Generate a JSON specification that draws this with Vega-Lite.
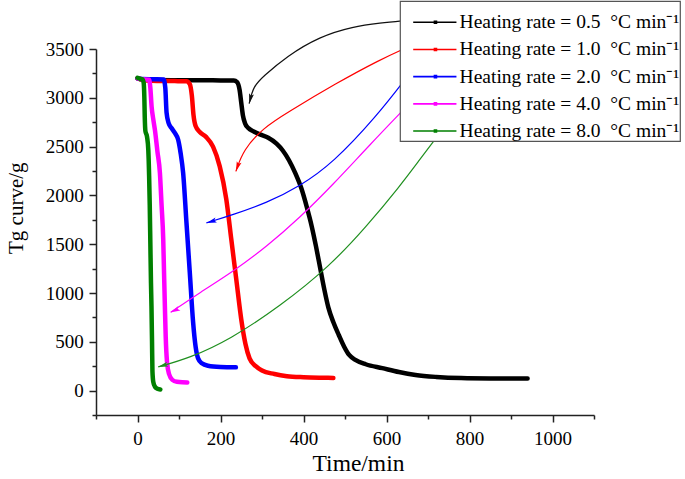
{
  "$schema": "https://vega.github.io/schema/vega-lite/v6.json",
  "width": 498,
  "height": 366,
  "autosize": "none",
  "padding": {"left": 96, "top": 49, "right": 91, "bottom": 64},
  "background": "white",
  "config": {
    "font": "Liberation Serif",
    "view": {"stroke": null},
    "legend": {
      "labelFont": "Liberation Serif",
      "labelFontSize": 19.5,
      "labelColor": "black",
      "labelLimit": 500,
      "symbolSize": 100,
      "symbolStrokeWidth": 1.6,
      "symbolType": "M-4.45,0H4.2M-0.2,-0.2H0.2V0.2H-0.2Z",
      "padding": 0,
      "rowPadding": 6.2,
      "labelOffset": 14.4,
      "symbolOffset": 25.7,
      "strokeColor": "#555555",
      "strokeWidth": 1.2,
      "fillColor": "white",
      "titleFontSize": 11.5,
      "titlePadding": 0
    }
  },
  "datasets": {
    "tg": [
      {"rate": "0.5", "t": 0, "w": 3200}, {"rate": "0.5", "t": 15, "w": 3185}, {"rate": "0.5", "t": 100, "w": 3180}, {"rate": "0.5", "t": 200, "w": 3178}, {"rate": "0.5", "t": 232, "w": 3176}, {"rate": "0.5", "t": 240, "w": 3160}, {"rate": "0.5", "t": 246, "w": 3080}, {"rate": "0.5", "t": 250, "w": 2950}, {"rate": "0.5", "t": 254, "w": 2820}, {"rate": "0.5", "t": 259, "w": 2740}, {"rate": "0.5", "t": 267, "w": 2690}, {"rate": "0.5", "t": 280, "w": 2655}, {"rate": "0.5", "t": 295, "w": 2625}, {"rate": "0.5", "t": 315, "w": 2590}, {"rate": "0.5", "t": 335, "w": 2530}, {"rate": "0.5", "t": 350, "w": 2460}, {"rate": "0.5", "t": 365, "w": 2360}, {"rate": "0.5", "t": 380, "w": 2230}, {"rate": "0.5", "t": 395, "w": 2070}, {"rate": "0.5", "t": 408, "w": 1880}, {"rate": "0.5", "t": 420, "w": 1680}, {"rate": "0.5", "t": 430, "w": 1480}, {"rate": "0.5", "t": 440, "w": 1260}, {"rate": "0.5", "t": 450, "w": 1040}, {"rate": "0.5", "t": 460, "w": 850}, {"rate": "0.5", "t": 472, "w": 700}, {"rate": "0.5", "t": 485, "w": 570}, {"rate": "0.5", "t": 498, "w": 450}, {"rate": "0.5", "t": 510, "w": 365}, {"rate": "0.5", "t": 525, "w": 315}, {"rate": "0.5", "t": 550, "w": 270}, {"rate": "0.5", "t": 590, "w": 230}, {"rate": "0.5", "t": 630, "w": 190}, {"rate": "0.5", "t": 670, "w": 160}, {"rate": "0.5", "t": 720, "w": 140}, {"rate": "0.5", "t": 780, "w": 128}, {"rate": "0.5", "t": 850, "w": 124}, {"rate": "0.5", "t": 940, "w": 123},
      {"rate": "1.0", "t": 0, "w": 3200}, {"rate": "1.0", "t": 15, "w": 3180}, {"rate": "1.0", "t": 60, "w": 3172}, {"rate": "1.0", "t": 118, "w": 3170}, {"rate": "1.0", "t": 126, "w": 3140}, {"rate": "1.0", "t": 131, "w": 3020}, {"rate": "1.0", "t": 135, "w": 2820}, {"rate": "1.0", "t": 140, "w": 2710}, {"rate": "1.0", "t": 150, "w": 2650}, {"rate": "1.0", "t": 165, "w": 2600}, {"rate": "1.0", "t": 182, "w": 2500}, {"rate": "1.0", "t": 198, "w": 2300}, {"rate": "1.0", "t": 214, "w": 1960}, {"rate": "1.0", "t": 226, "w": 1550}, {"rate": "1.0", "t": 238, "w": 1140}, {"rate": "1.0", "t": 250, "w": 730}, {"rate": "1.0", "t": 260, "w": 480}, {"rate": "1.0", "t": 270, "w": 330}, {"rate": "1.0", "t": 285, "w": 250}, {"rate": "1.0", "t": 300, "w": 205}, {"rate": "1.0", "t": 330, "w": 170}, {"rate": "1.0", "t": 360, "w": 148}, {"rate": "1.0", "t": 400, "w": 137}, {"rate": "1.0", "t": 440, "w": 132}, {"rate": "1.0", "t": 472, "w": 130},
      {"rate": "2.0", "t": 0, "w": 3200}, {"rate": "2.0", "t": 10, "w": 3192}, {"rate": "2.0", "t": 40, "w": 3190}, {"rate": "2.0", "t": 63, "w": 3188}, {"rate": "2.0", "t": 67, "w": 3100}, {"rate": "2.0", "t": 70, "w": 2850}, {"rate": "2.0", "t": 75, "w": 2740}, {"rate": "2.0", "t": 82, "w": 2690}, {"rate": "2.0", "t": 90, "w": 2640}, {"rate": "2.0", "t": 98, "w": 2570}, {"rate": "2.0", "t": 104, "w": 2430}, {"rate": "2.0", "t": 110, "w": 2230}, {"rate": "2.0", "t": 118, "w": 1720}, {"rate": "2.0", "t": 126, "w": 1210}, {"rate": "2.0", "t": 134, "w": 700}, {"rate": "2.0", "t": 140, "w": 450}, {"rate": "2.0", "t": 146, "w": 330}, {"rate": "2.0", "t": 155, "w": 280}, {"rate": "2.0", "t": 170, "w": 255}, {"rate": "2.0", "t": 200, "w": 242}, {"rate": "2.0", "t": 237, "w": 238},
      {"rate": "4.0", "t": 0, "w": 3200}, {"rate": "4.0", "t": 10, "w": 3190}, {"rate": "4.0", "t": 28, "w": 3185}, {"rate": "4.0", "t": 31, "w": 3100}, {"rate": "4.0", "t": 34, "w": 2910}, {"rate": "4.0", "t": 38, "w": 2780}, {"rate": "4.0", "t": 42, "w": 2670}, {"rate": "4.0", "t": 48, "w": 2450}, {"rate": "4.0", "t": 54, "w": 2230}, {"rate": "4.0", "t": 58, "w": 1900}, {"rate": "4.0", "t": 62, "w": 1550}, {"rate": "4.0", "t": 64, "w": 1200}, {"rate": "4.0", "t": 66, "w": 860}, {"rate": "4.0", "t": 68, "w": 550}, {"rate": "4.0", "t": 71, "w": 300}, {"rate": "4.0", "t": 76, "w": 170}, {"rate": "4.0", "t": 84, "w": 110}, {"rate": "4.0", "t": 95, "w": 90}, {"rate": "4.0", "t": 108, "w": 85}, {"rate": "4.0", "t": 120, "w": 84},
      {"rate": "8.0", "t": 0, "w": 3205}, {"rate": "8.0", "t": 6, "w": 3195}, {"rate": "8.0", "t": 12, "w": 3190}, {"rate": "8.0", "t": 15, "w": 3150}, {"rate": "8.0", "t": 16.5, "w": 3000}, {"rate": "8.0", "t": 17.5, "w": 2800}, {"rate": "8.0", "t": 19, "w": 2660}, {"rate": "8.0", "t": 23, "w": 2600}, {"rate": "8.0", "t": 26, "w": 2470}, {"rate": "8.0", "t": 28, "w": 2200}, {"rate": "8.0", "t": 29.5, "w": 1900}, {"rate": "8.0", "t": 31, "w": 1500}, {"rate": "8.0", "t": 32.5, "w": 1100}, {"rate": "8.0", "t": 33.7, "w": 860}, {"rate": "8.0", "t": 35, "w": 500}, {"rate": "8.0", "t": 36, "w": 200}, {"rate": "8.0", "t": 38, "w": 90}, {"rate": "8.0", "t": 42, "w": 40}, {"rate": "8.0", "t": 48, "w": 20}, {"rate": "8.0", "t": 55, "w": 12}
    ],
    "arrows": [
      {"rate": "0.5", "t": 648, "w": 3793}, {"rate": "0.5", "t": 584, "w": 3766}, {"rate": "0.5", "t": 520, "w": 3731}, {"rate": "0.5", "t": 439, "w": 3629}, {"rate": "0.5", "t": 359, "w": 3424}, {"rate": "0.5", "t": 303, "w": 3219}, {"rate": "0.5", "t": 279, "w": 3117}, {"rate": "0.5", "t": 269, "w": 2940},
      {"rate": "1.0", "t": 648, "w": 3513}, {"rate": "1.0", "t": 584, "w": 3390}, {"rate": "1.0", "t": 480, "w": 3152}, {"rate": "1.0", "t": 359, "w": 2844}, {"rate": "1.0", "t": 303, "w": 2691}, {"rate": "1.0", "t": 255, "w": 2468}, {"rate": "1.0", "t": 237, "w": 2246},
      {"rate": "2.0", "t": 648, "w": 3206}, {"rate": "2.0", "t": 576, "w": 2810}, {"rate": "2.0", "t": 471, "w": 2332}, {"rate": "2.0", "t": 391, "w": 2093}, {"rate": "2.0", "t": 311, "w": 1923}, {"rate": "2.0", "t": 230, "w": 1803}, {"rate": "2.0", "t": 166, "w": 1718},
      {"rate": "4.0", "t": 648, "w": 2909}, {"rate": "4.0", "t": 560, "w": 2520}, {"rate": "4.0", "t": 471, "w": 2110}, {"rate": "4.0", "t": 391, "w": 1772}, {"rate": "4.0", "t": 311, "w": 1475}, {"rate": "4.0", "t": 230, "w": 1219}, {"rate": "4.0", "t": 150, "w": 1004}, {"rate": "4.0", "t": 80, "w": 802},
      {"rate": "8.0", "t": 720, "w": 2591}, {"rate": "8.0", "t": 680, "w": 2366}, {"rate": "8.0", "t": 632, "w": 2093}, {"rate": "8.0", "t": 552, "w": 1683}, {"rate": "8.0", "t": 463, "w": 1273}, {"rate": "8.0", "t": 343, "w": 863}, {"rate": "8.0", "t": 222, "w": 522}, {"rate": "8.0", "t": 126, "w": 335}, {"rate": "8.0", "t": 50, "w": 243}
    ],
    "heads": [
      {"rate": "0.5", "t": 272, "w": 2990},
      {"rate": "1.0", "t": 241, "w": 2294},
      {"rate": "2.0", "t": 178, "w": 1733},
      {"rate": "4.0", "t": 90, "w": 823},
      {"rate": "8.0", "t": 61, "w": 257}
    ]
  },
  "encoding": {
    "x": {
      "field": "t", "type": "quantitative",
      "scale": {"domain": [-100, 1100], "nice": false, "zero": false},
      "axis": {
        "title": "Time/min",
        "values": [-100, 0, 100, 200, 300, 400, 500, 600, 700, 800, 900, 1000, 1100],
        "format": "d",
        "labelExpr": "(datum.value % 200 == 0 && datum.value >= 0 && datum.value <= 1000) ? datum.label : ''",
        "grid": false,
        "labelFlush": false,
        "labelOverlap": false,
        "labelBound": false,
        "labelFont": "Liberation Serif",
        "labelFontSize": 19,
        "labelColor": "black",
        "labelPadding": 7.8,
        "tickSize": {"condition": {"test": "datum.value % 200 == 0", "value": 7}, "value": 4},
        "tickColor": "#222222",
        "tickWidth": 1.5,
        "domainColor": "#222222",
        "domainWidth": 1.5,
        "titleFont": "Liberation Serif",
        "titleFontSize": 23.5,
        "titleFontWeight": "normal",
        "titleColor": "black",
        "titleX": 262,
        "titleY": 55,
        "titleAlign": "center",
        "titleBaseline": "alphabetic",
        "titleAnchor": null
      }
    },
    "y": {
      "field": "w", "type": "quantitative",
      "scale": {"domain": [-250, 3500], "nice": false, "zero": false},
      "axis": {
        "title": "Tg curve/g",
        "values": [-250, 0, 250, 500, 750, 1000, 1250, 1500, 1750, 2000, 2250, 2500, 2750, 3000, 3250, 3500],
        "format": "d",
        "labelExpr": "(datum.value % 500 == 0 && datum.value >= 0) ? datum.label : ''",
        "grid": false,
        "labelFlush": false,
        "labelOverlap": false,
        "labelBound": false,
        "labelFont": "Liberation Serif",
        "labelFontSize": 19,
        "labelColor": "black",
        "labelPadding": 5.7,
        "tickSize": {"condition": {"test": "datum.value % 500 == 0", "value": 7}, "value": 4},
        "tickColor": "#222222",
        "tickWidth": 1.5,
        "domainColor": "#222222",
        "domainWidth": 1.5,
        "titleFont": "Liberation Serif",
        "titleFontSize": 21,
        "titleFontWeight": "normal",
        "titleColor": "black",
        "titleAngle": 270,
        "titleX": -73.5,
        "titleY": 158.7,
        "titleAlign": "center",
        "titleBaseline": "alphabetic",
        "titleAnchor": null
      }
    }
  },
  "layer": [
    {
      "data": {"name": "tg"},
      "mark": {"type": "line", "strokeWidth": 4.5, "interpolate": "monotone", "strokeCap": "round", "strokeJoin": "round"},
      "encoding": {
        "color": {
          "field": "rate", "type": "nominal",
          "scale": {"domain": ["0.5", "1.0", "2.0", "4.0", "8.0"], "range": ["#000000", "#ff0000", "#0000ff", "#ff00ff", "#008000"]},
          "legend": {
            "title": " ",
            "orient": "none", "legendX": 304, "legendY": -48,
            "labelExpr": "'Heating rate = ' + datum.label + '\u00a0 °C min⁻¹'"
          }
        }
      }
    },
    {
      "data": {"name": "arrows"},
      "mark": {"type": "line", "strokeWidth": 1.2, "interpolate": "basis", "clip": false},
      "encoding": {
        "stroke": {
          "field": "rate", "type": "nominal",
          "scale": {"domain": ["0.5", "1.0", "2.0", "4.0", "8.0"], "range": ["#111111", "#ff0000", "#0000ff", "#ff00ff", "#1f8f1f"]},
          "legend": null
        }
      }
    },
    {
      "data": {"name": "heads"},
      "mark": {"type": "point", "filled": true, "opacity": 1, "size": 100, "shape": "M0,-1L0.5,1L0,0.6L-0.5,1Z", "clip": false},
      "encoding": {
        "fill": {
          "field": "rate", "type": "nominal",
          "scale": {"domain": ["0.5", "1.0", "2.0", "4.0", "8.0"], "range": ["#111111", "#ff0000", "#0000ff", "#ff00ff", "#1f8f1f"]},
          "legend": null
        },
        "angle": {
          "condition": [
            {"test": "datum.rate == '0.5'", "value": 193},
            {"test": "datum.rate == '1.0'", "value": 199},
            {"test": "datum.rate == '2.0'", "value": 253},
            {"test": "datum.rate == '4.0'", "value": 245}
          ],
          "value": 254
        }
      }
    }
  ]
}
